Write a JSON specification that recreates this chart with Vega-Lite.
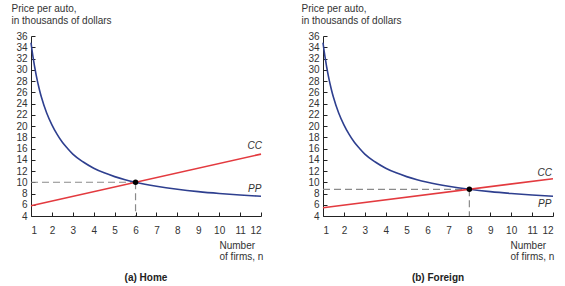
{
  "$schema": "https://vega.github.io/schema/vega-lite/v6.json",
  "background": "white",
  "padding": {"left": 11, "top": 3, "right": 5, "bottom": 0},
  "spacing": 36,
  "config": {
    "view": {"stroke": null},
    "font": "Liberation Sans",
    "axis": {
      "domainColor": "#222",
      "tickColor": "#222",
      "labelColor": "#333",
      "labelFontSize": 10,
      "titleFontSize": 10,
      "titleFontWeight": "normal",
      "titleColor": "#333",
      "grid": false,
      "tickSize": -4
    },
    "axisX": {"labelPadding": 13},
    "axisY": {"labelPadding": 8},
    "title": {"fontSize": 10, "fontWeight": "bold", "color": "#222"}
  },
  "datasets": {
    "pp": [
      {"n": 1, "p": 34.8}, {"n": 1.1, "p": 32.2}, {"n": 1.25, "p": 29}, {"n": 1.4, "p": 26.5},
      {"n": 1.5, "p": 25.1}, {"n": 1.75, "p": 22.3}, {"n": 2, "p": 20.2}, {"n": 2.25, "p": 18.5},
      {"n": 2.5, "p": 17.1}, {"n": 2.75, "p": 16}, {"n": 3, "p": 15}, {"n": 3.5, "p": 13.6},
      {"n": 4, "p": 12.5}, {"n": 4.5, "p": 11.67}, {"n": 5, "p": 11}, {"n": 5.5, "p": 10.45},
      {"n": 6, "p": 10}, {"n": 7, "p": 9.29}, {"n": 8, "p": 8.75}, {"n": 9, "p": 8.33},
      {"n": 10, "p": 8}, {"n": 11, "p": 7.73}, {"n": 12, "p": 7.5}
    ],
    "ccHome": [{"n": 1, "p": 5.83}, {"n": 12, "p": 15}],
    "ccForeign": [{"n": 1, "p": 5.47}, {"n": 12, "p": 10.63}],
    "dashHome": [
      {"seg": "h", "n": 1, "p": 10}, {"seg": "h", "n": 6, "p": 10},
      {"seg": "v", "n": 6, "p": 10}, {"seg": "v", "n": 6, "p": 4}
    ],
    "dashForeign": [
      {"seg": "h", "n": 1, "p": 8.75}, {"seg": "h", "n": 8, "p": 8.75},
      {"seg": "v", "n": 8, "p": 8.75}, {"seg": "v", "n": 8, "p": 4}
    ],
    "eqHome": [{"n": 6, "p": 10}],
    "eqForeign": [{"n": 8, "p": 8.75}],
    "lblHome": [{"n": 11.7, "p": 16.4, "t": "CC"}, {"n": 11.7, "p": 8.8, "t": "PP"}],
    "lblForeign": [{"n": 11.6, "p": 11.6, "t": "CC"}, {"n": 11.6, "p": 6.1, "t": "PP"}]
  },
  "hconcat": [
    {
      "width": 230,
      "height": 180,
      "title": {"text": "(a) Home", "orient": "bottom", "offset": 11},
      "encoding": {
        "x": {"field": "n", "type": "quantitative", "scale": {"domain": [1, 12], "nice": false},
          "axis": {"values": [1,2,3,4,5,6,7,8,9,10,11,12], "title": ["Number", "of firms, n"], "titleAlign": "left", "titleX": 188, "titleY": 24, "titleBaseline": "top", "titleLineHeight": 11.5}},
        "y": {"field": "p", "type": "quantitative", "scale": {"domain": [4, 36], "nice": false},
          "axis": {"values": [4,6,8,10,12,14,16,18,20,22,24,26,28,30,32,34,36], "title": ["Price per auto,", "in thousands of dollars"], "titleAngle": 0, "titleAlign": "left", "titleX": -20, "titleY": -33, "titleBaseline": "top", "titleLineHeight": 12}}
      },
      "layer": [
        {"data": {"name": "dashHome"}, "mark": {"type": "line", "color": "#8a8a8a", "strokeDash": [7, 4], "strokeWidth": 1.2}, "encoding": {"detail": {"field": "seg"}}},
        {"data": {"name": "pp"}, "mark": {"type": "line", "color": "#2e3f8f", "strokeWidth": 1.6, "interpolate": "monotone"}},
        {"data": {"name": "ccHome"}, "mark": {"type": "line", "color": "#e33a3f", "strokeWidth": 1.6}},
        {"data": {"name": "eqHome"}, "mark": {"type": "point", "filled": true, "color": "#000", "size": 30, "opacity": 1}},
        {"data": {"name": "lblHome"}, "mark": {"type": "text", "fontStyle": "italic", "fontSize": 10, "color": "#333"}, "encoding": {"text": {"field": "t"}}}
      ]
    },
    {
      "width": 230,
      "height": 180,
      "title": {"text": "(b) Foreign", "orient": "bottom", "offset": 11},
      "encoding": {
        "x": {"field": "n", "type": "quantitative", "scale": {"domain": [1, 12], "nice": false},
          "axis": {"values": [1,2,3,4,5,6,7,8,9,10,11,12], "title": ["Number", "of firms, n"], "titleAlign": "left", "titleX": 187, "titleY": 24, "titleBaseline": "top", "titleLineHeight": 11.5}},
        "y": {"field": "p", "type": "quantitative", "scale": {"domain": [4, 36], "nice": false},
          "axis": {"values": [4,6,8,10,12,14,16,18,20,22,24,26,28,30,32,34,36], "title": ["Price per auto,", "in thousands of dollars"], "titleAngle": 0, "titleAlign": "left", "titleX": -22, "titleY": -33, "titleBaseline": "top", "titleLineHeight": 12}}
      },
      "layer": [
        {"data": {"name": "dashForeign"}, "mark": {"type": "line", "color": "#8a8a8a", "strokeDash": [7, 4], "strokeWidth": 1.2}, "encoding": {"detail": {"field": "seg"}}},
        {"data": {"name": "pp"}, "mark": {"type": "line", "color": "#2e3f8f", "strokeWidth": 1.6, "interpolate": "monotone"}},
        {"data": {"name": "ccForeign"}, "mark": {"type": "line", "color": "#e33a3f", "strokeWidth": 1.6}},
        {"data": {"name": "eqForeign"}, "mark": {"type": "point", "filled": true, "color": "#000", "size": 30, "opacity": 1}},
        {"data": {"name": "lblForeign"}, "mark": {"type": "text", "fontStyle": "italic", "fontSize": 10, "color": "#333"}, "encoding": {"text": {"field": "t"}}}
      ]
    }
  ]
}
